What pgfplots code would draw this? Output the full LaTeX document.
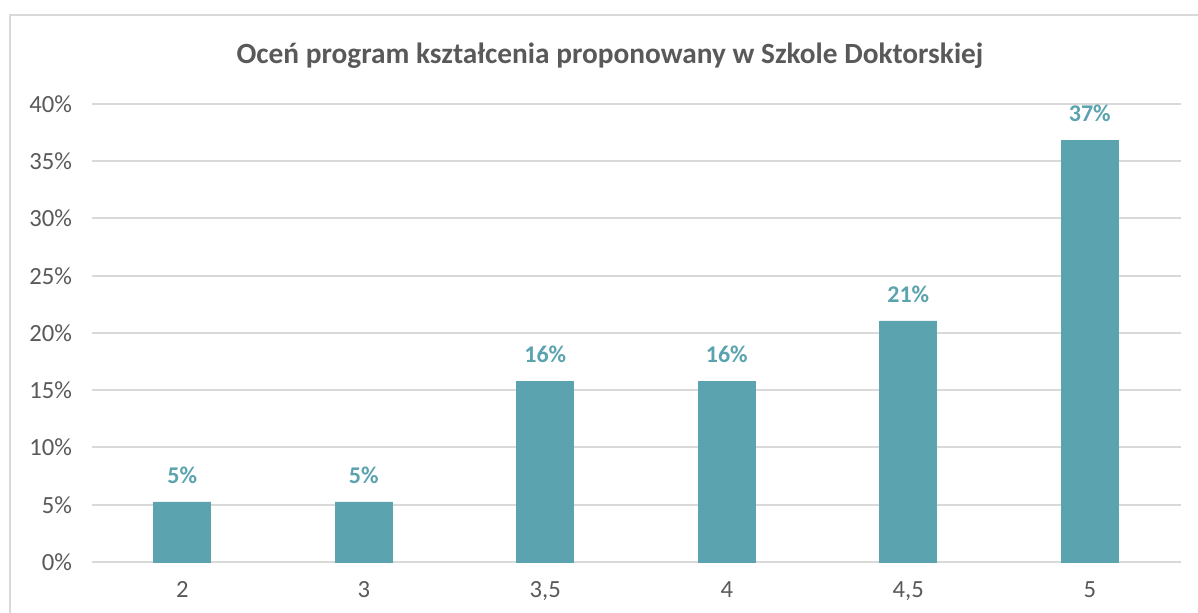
\documentclass[border=0pt]{standalone}
\usepackage{pgfplots}
\pgfplotsset{compat=1.18}
\usepackage{fontspec}
\setmainfont{Carlito}
\definecolor{barc}{HTML}{5BA3AF}
\definecolor{txtc}{HTML}{595959}
\definecolor{gridc}{HTML}{D9D9D9}
\begin{document}
\begin{tikzpicture}
\useasboundingbox (0pt,0pt) rectangle (898.5pt,459.75pt);
\begin{scope}
\clip (0pt,0pt) rectangle (898.5pt,459.75pt);
\draw[gridc, line width=1.5pt] (7.5pt,-15pt) -- (7.5pt,448.5pt) -- (915pt,448.5pt);
\end{scope}
\node[font=\fontsize{22}{26}\selectfont\bfseries, text=txtc] at (457.5pt,417.75pt) {Oceń program kształcenia proponowany w Szkole Doktorskiej};
\begin{axis}[
  at={(68.625pt,38.25pt)}, anchor=south west,
  scale only axis,
  width=816.75pt, height=343.5pt,
  xmin=-0.5, xmax=5.5, ymin=0, ymax=40,
  xtick={0,...,5},
  xticklabels={2,3,{3,5},4,{4,5},5},
  ytick={0,5,...,40},
  yticklabel={\pgfmathprintnumber{\tick}\%},
  /pgf/number format/assume math mode=true,
  axis line style={draw=none},
  major tick length=0pt,
  ymajorgrids, xmajorgrids=false,
  grid style={gridc, line width=1.5pt},
  tick label style={font=\fontsize{18.5}{21}\selectfont, text=txtc},
  yticklabel style={xshift=-11pt},
  xticklabel style={yshift=-11pt},
  ybar, bar width=42.75pt,
  nodes near coords={\pgfmathprintnumber[fixed,precision=0]{\pgfplotspointmeta}\%},
  nodes near coords style={font=\fontsize{18}{21}\selectfont\bfseries, text=barc, yshift=10pt},
  clip=false,
]
\addplot[fill=barc, draw=barc] coordinates {(0,5.26) (1,5.26) (2,15.79) (3,15.79) (4,21.05) (5,36.84)};
\end{axis}
\end{tikzpicture}
\end{document}
